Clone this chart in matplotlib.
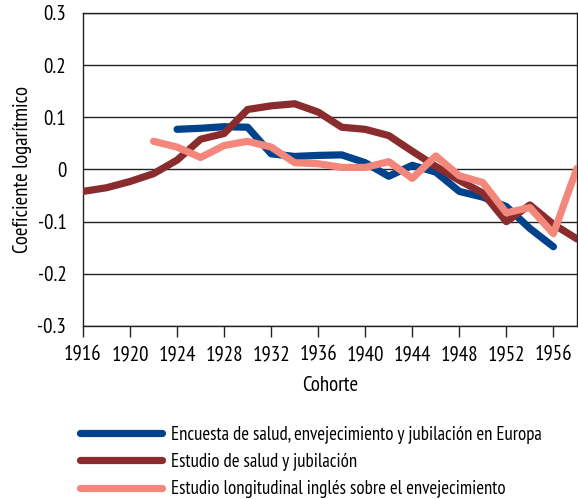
import matplotlib.pyplot as plt
import numpy as np

plt.rcParams['font.family'] = ['PT Sans Narrow', 'DejaVu Sans']

# Encuesta de salud, envejecimiento y jubilación en Europa
years_share = [1924, 1926, 1928, 1930, 1932, 1934, 1936, 1938, 1940, 1942,
               1944, 1946, 1948, 1950, 1952, 1954, 1956]
vals_share = [0.077, 0.079, 0.082, 0.081, 0.030, 0.025, 0.027, 0.028, 0.013, -0.013,
              0.008, -0.005, -0.042, -0.053, -0.071, -0.113, -0.148]

# Estudio de salud y jubilación
years_hrs = [1916, 1918, 1920, 1922, 1924, 1926, 1928, 1930, 1932, 1934, 1936, 1938,
             1940, 1942, 1944, 1946, 1948, 1950, 1952, 1954, 1956, 1958]
vals_hrs = [-0.042, -0.035, -0.023, -0.008, 0.018, 0.058, 0.069, 0.115, 0.122, 0.126,
            0.110, 0.081, 0.077, 0.065, 0.035, 0.006, -0.021, -0.045, -0.100, -0.068,
            -0.105, -0.133]

# Estudio longitudinal inglés sobre el envejecimiento
years_elsa = [1922, 1924, 1926, 1928, 1930, 1932, 1934, 1936, 1938, 1940, 1942,
              1944, 1946, 1948, 1950, 1952, 1954, 1956, 1958]
vals_elsa = [0.054, 0.043, 0.023, 0.046, 0.054, 0.043, 0.013, 0.011, 0.004, 0.004, 0.015,
             -0.017, 0.026, -0.012, -0.025, -0.083, -0.073, -0.123, 0.002]

labels = ['Encuesta de salud, envejecimiento y jubilación en Europa',
          'Estudio de salud y jubilación',
          'Estudio longitudinal inglés sobre el envejecimiento']
colors = ['#00428C', '#8A2B2E', '#F4877C']

fig = plt.figure(figsize=(5.78, 4.99), dpi=100)
ax = fig.add_axes([0.1436, 0.3467, 0.8545, 0.6273])

series = [(years_share, vals_share), (years_hrs, vals_hrs), (years_elsa, vals_elsa)]
order = [1, 2, 0]  # drawing order: red, pink, blue on top
handles = [None] * 3
for i in order:
    x, y = series[i]
    h, = ax.plot(x, y, color=colors[i], lw=5.2, solid_capstyle='round',
                 solid_joinstyle='round', label=labels[i], zorder=3 + i)
    handles[i] = h

ax.set_xlim(1916, 1958)
ax.set_ylim(-0.3, 0.3)
ax.set_yticks(np.arange(-0.3, 0.31, 0.1))
ax.set_yticklabels(['-0.3', '-0.2', '-0.1', '0', '0.1', '0.2', '0.3'])
ax.set_xticks(range(1916, 1957, 4))
ax.grid(axis='y', color='#222222', lw=1)
ax.set_axisbelow(True)
for s in ax.spines.values():
    s.set_color('#222222')
    s.set_linewidth(1)
ax.tick_params(axis='y', length=0, pad=12, labelsize=15)
ax.tick_params(axis='x', length=8, width=1, color='#222222', pad=6, labelsize=15)
ax.set_xlabel('Cohorte', fontsize=15, labelpad=8)
ax.set_ylabel('Coeficiente logarítmico', fontsize=15, labelpad=4)

fig.legend(handles=handles, labels=labels, loc='upper left',
           bbox_to_anchor=(0.138, 0.147), frameon=False, fontsize=13.5,
           handlelength=4.4, handletextpad=0.48, labelspacing=0.5,
           borderaxespad=0, borderpad=0)

fig.savefig('out.png', dpi=100)
